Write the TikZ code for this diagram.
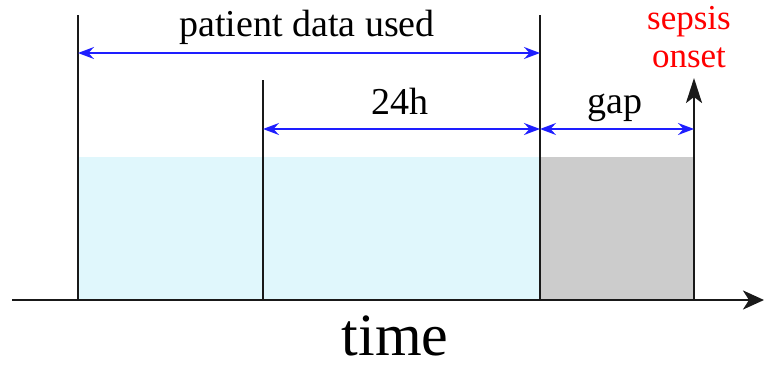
\documentclass[tikz,border=0pt]{standalone}
\usepackage{fontspec}
\setmainfont{Liberation Serif}
\usetikzlibrary{arrows.meta}
\definecolor{windowblue}{RGB}{224,247,252}
\definecolor{gapgray}{RGB}{204,204,204}
\definecolor{spanblue}{RGB}{30,30,255}
\begin{document}
\begin{tikzpicture}[x=1pt,y=-1pt,
  spanhead/.tip={Stealth[length=16pt,width=12pt,inset=5.5pt]},
  span/.style={spanblue, line width=1.8pt, spanhead-spanhead},
  tick/.style={line width=2.4pt, black!90},
  lbl/.style={font=\fontsize{38}{42}\selectfont, inner sep=0pt, anchor=base},
  redlbl/.style={font=\fontsize{35}{40}\selectfont, text=red, inner sep=0pt, anchor=base}]
\useasboundingbox (0,0) rectangle (765,369);

% time marks
\coordinate (a0) at (78,300);  \coordinate (a1) at (78,15);
\coordinate (b0) at (263,300); \coordinate (b1) at (263,80);
\coordinate (c0) at (540,300); \coordinate (c1) at (540,15);
\coordinate (d0) at (694,300); \coordinate (d1) at (694,78);
\coordinate (ax0) at (12,300); \coordinate (ax1) at (764,300);

% shaded periods
\fill[windowblue] (78,157) rectangle (c0);
\fill[gapgray] (540,157) rectangle (d0);

% vertical marks
\draw[tick] (a0) -- (a1);
\draw[tick] (b0) -- (b1);
\draw[tick] (c0) -- (c1);
\draw[tick, -{Stealth[length=25pt,width=16pt,inset=6pt]}] (d0) -- (d1);

% time axis
\draw[line width=2.8pt, black!90, -{Stealth[length=21pt,width=19pt,inset=6pt]}] (ax0) -- (ax1);

% spans
\coordinate (s1l) at (78,53);   \coordinate (s1r) at (540,53);
\coordinate (s2l) at (263,129); \coordinate (s2r) at (540,129);
\coordinate (s3l) at (540,129); \coordinate (s3r) at (694,129);
\draw[span] (s1l) -- (s1r);
\draw[span] (s2l) -- (s2r);
\draw[span] (s3l) -- (s3r);

% labels
\node[lbl] (used) at (307,37) {patient data used};
\node[lbl] (win) at (399.5,114) {24h};
\node[lbl] (gap) at (615,113) {gap};
\node[redlbl] (sep) at (689,30) {sepsis};
\node[redlbl] (ons) at (689,67) {onset};
\node[font=\fontsize{60}{66}\selectfont, inner sep=0pt, anchor=base] (time) at (395,355) {time};
\end{tikzpicture}
\end{document}
